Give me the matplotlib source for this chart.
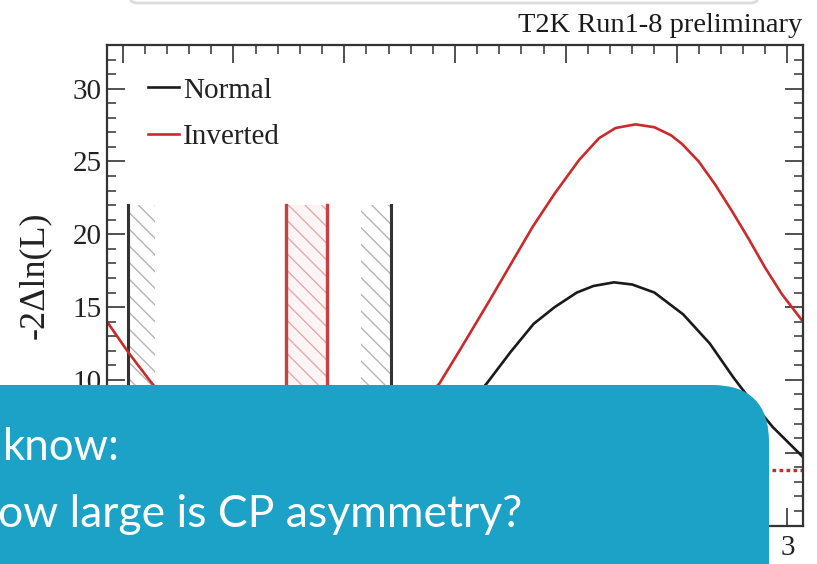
import numpy as np
import matplotlib
matplotlib.use("Agg")
import matplotlib.pyplot as plt
from matplotlib.patches import FancyBboxPatch

# ---- data ----
dcp_normal = [-3.1416, -2.95, -2.7, -2.4, -2.1, -1.77, -1.45, -1.1, -0.8, -0.58, -0.3, 0.0, 0.285,
              0.5, 0.71, 0.9, 1.1, 1.25, 1.435, 1.6, 1.8, 2.06, 2.3, 2.51, 2.7, 2.87, 3.1416]
chi2_normal = [4.7, 3.0, 1.5, 0.6, 0.15, 0.0, 0.15, 0.7, 1.8, 3.0, 5.0, 7.4, 9.74,
               11.9, 13.85, 15.0, 16.0, 16.45, 16.7, 16.55, 16.0, 14.5, 12.5, 10.2, 8.3, 6.75, 4.7]
dcp_inverted = [-3.1416, -2.95, -2.75, -2.5, -2.2, -1.9, -1.6, -1.35, -1.1, -0.8, -0.5, -0.14,
                0.04, 0.3, 0.5, 0.7, 0.9, 1.12, 1.3, 1.45, 1.63, 1.8, 1.95, 2.05, 2.2, 2.35,
                2.5, 2.65, 2.8, 2.95, 3.1416]
chi2_inverted = [14.0, 11.9, 9.9, 7.6, 5.6, 4.2, 3.55, 3.4, 3.6, 4.8, 6.9, 9.76,
                 12.0, 15.3, 17.9, 20.5, 22.8, 25.1, 26.6, 27.3, 27.55, 27.35, 26.8, 26.2, 25.0, 23.4,
                 21.6, 19.7, 17.7, 15.9, 14.0]
crit_inverted = 3.8
band_top = 22.0
normal_bands = [(-2.95, -2.71), (-0.85, -0.58)]
normal_lines = [-2.95, -0.58]
inverted_band = (-1.53, -1.16)

series_labels = ["Normal", "Inverted"]
header = "T2K Run1-8 preliminary"
ylabel = "-2\u0394ln(L)"
box_lines = ["know:", "ow large is CP asymmetry?"]

BLACK = "#1a1a1a"
RED = "#cc2a2a"

W, H = 817, 564
fig = plt.figure(figsize=(W / 100, H / 100), dpi=100)
fig.patch.set_facecolor("white")

L, R, T, B = 107, 803, 45, 525.5
ax = fig.add_axes([L / W, (H - B) / H, (R - L) / W, (B - T) / H])

serif = "Liberation Serif"

# hatched bands
for (a, b) in normal_bands:
    ax.fill_betweenx([0, band_top], a, b, facecolor="none", edgecolor="#b4b4b4",
                     hatch="\\\\", linewidth=0)
ax.fill_betweenx([0, band_top], inverted_band[0], inverted_band[1], facecolor="#fdf5f5",
                 edgecolor="#e6aaaa", hatch="\\\\", linewidth=0)
for xv in normal_lines:
    ax.plot([xv, xv], [0, band_top], color="#333333", lw=2.2)
for xv in inverted_band:
    ax.plot([xv, xv], [0, band_top], color="#c84040", lw=2.4)

ax.plot([-np.pi, np.pi], [crit_inverted, crit_inverted], color=RED, lw=2.4, ls=(0, (1.1, 1.0)))

ax.plot(dcp_normal, chi2_normal, color=BLACK, lw=1.9, label=series_labels[0])
ax.plot(dcp_inverted, chi2_inverted, color=RED, lw=1.9, label=series_labels[1])

ax.set_xlim(-np.pi, np.pi)
ax.set_ylim(0, 33)
ax.set_xticks([-3, -2, -1, 0, 1, 2, 3])
ax.set_xticks(np.arange(-3.0, 3.01, 0.2), minor=True)
ax.set_yticks([0, 5, 10, 15, 20, 25, 30])
ax.set_yticks(np.arange(0, 33.1, 1), minor=True)
ax.tick_params(which="both", direction="in", top=True, right=True, color="#333333",
               labelsize=21, pad=4)
ax.tick_params(which="major", length=13, width=1.2)
ax.tick_params(which="minor", length=6.5, width=1.1)
ax.tick_params(axis="x", pad=7)
for lab in ax.get_xticklabels() + ax.get_yticklabels():
    lab.set_family(serif)
    lab.set_color("#222222")
for s in ax.spines.values():
    s.set_linewidth(1.6)
    s.set_color("#333333")

ax.set_ylabel(ylabel, family=serif, fontsize=26, color="#222222")
ax.yaxis.set_label_coords(-0.08, 0.52)

leg = ax.legend(loc="upper left", bbox_to_anchor=(0.059, 0.933), frameon=False,
                prop={"family": serif, "size": 21}, handlelength=1.05, handletextpad=0.15,
                labelspacing=0.7, borderpad=0, borderaxespad=0)
for t in leg.get_texts():
    t.set_color("#222222")

fig.text(802 / W, 1 - 32 / H, header, family=serif, fontsize=20.5, ha="right",
         va="baseline", color="#1a1a1a")

# faint outline of the slide box above
top_box = FancyBboxPatch((130 / W, 1 - 3 / H), 628 / W, 0.2,
                         boxstyle="round,pad=0,rounding_size=0.01",
                         transform=fig.transFigure, facecolor="white",
                         edgecolor="#dcdcdc", lw=2.0, zorder=5)
fig.patches.append(top_box)

# teal overlay box
teal = "#1ca2c6"
box = FancyBboxPatch((-60 / W, -60 / H), (769 + 60) / W, (564 - 385 + 60) / H,
                     boxstyle="round,pad=0,rounding_size=0.07",
                     transform=fig.transFigure, facecolor=teal, edgecolor="none",
                     zorder=10, mutation_aspect=W / H)
fig.patches.append(box)

fig.text(3 / W, 1 - 460 / H, box_lines[0], family="Lato", fontsize=31.5, color="white",
         va="baseline", ha="left", zorder=11)
fig.text(-2 / W, 1 - 527 / H, box_lines[1], family="Lato", fontsize=32, color="white",
         va="baseline", ha="left", zorder=11)

fig.savefig("out.png", dpi=100)
